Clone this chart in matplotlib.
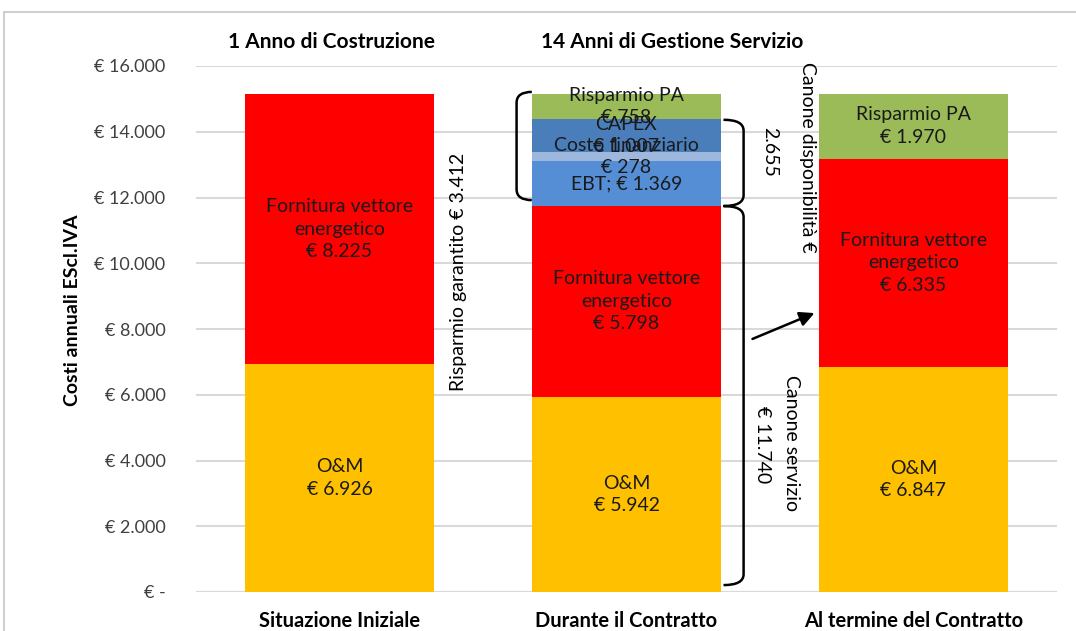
import matplotlib
matplotlib.use('Agg')
import matplotlib.pyplot as plt
import numpy as np
from matplotlib.path import Path
from matplotlib.patches import PathPatch, Rectangle

plt.rcParams['font.family'] = ['Lato', 'DejaVu Sans']

categories = ['Situazione Iniziale', 'Durante il Contratto', 'Al termine del Contratto']
om = [6926, 5942, 6847]
fornitura = [8225, 5798, 6335]
ebt = [0, 1369, 0]
costo_fin = [0, 278, 0]
capex = [0, 1007, 0]
risparmio_pa = [0, 758, 1970]
phase_titles = ['1 Anno di Costruzione', '14 Anni di Gestione Servizio']
canone_disp = 2655
yticks = [0, 2000, 4000, 6000, 8000, 10000, 12000, 14000, 16000]

def eur(v):
    if v == 0:
        return '€ -'
    return '€ ' + f'{v:,}'.replace(',', '.')

series = [
    ('O&M', om, '#FFC000', 'O&M\n{}'),
    ('Fornitura', fornitura, '#FF0000', 'Fornitura vettore\nenergetico\n{}'),
    ('EBT', ebt, '#558ED5', 'EBT; {}'),
    ('Costo finanziario', costo_fin, '#9DB8DC', 'Costo finanziario\n{}'),
    ('CAPEX', capex, '#4A7EBB', 'CAPEX\n{}'),
    ('Risparmio PA', risparmio_pa, '#9BBB59', 'Risparmio PA\n{}'),
]

fig = plt.figure(figsize=(10.76, 6.31), dpi=100)
ax = fig.add_axes([196/1076, 1-592/631, 861/1076, 526/631])

# chart frame
fig.patches.append(Rectangle((4/1076, -0.1), 1.1, 1-12/631+0.1, transform=fig.transFigure,
                             fill=False, edgecolor='#D0D0D0', lw=1.5))

x = np.arange(len(categories))
w = 0.66
bottom = np.zeros(len(categories))
for name, vals, col, fmt in series:
    vals = np.array(vals, dtype=float)
    ax.bar(x, vals, w, bottom=bottom, color=col, zorder=2)
    for i, v in enumerate(vals):
        if v > 0:
            ax.text(x[i], bottom[i] + v/2, fmt.format(eur(int(v))), ha='center', va='center',
                    fontsize=14, linespacing=1.4, color='#1a1a1a', zorder=4)
    bottom += vals

ax.set_xlim(-0.5, 2.5)
ax.set_ylim(0, 16000)
ax.set_yticks(yticks)
ax.set_yticklabels([eur(v) for v in yticks], fontsize=13, color='#404040')
ax.tick_params(axis='y', length=0, pad=22)
ax.tick_params(axis='x', length=0, pad=14)
ax.set_xticks(x)
ax.set_xticklabels(categories, fontsize=14.5, fontweight='bold')
ax.grid(axis='y', color='#D9D9D9', lw=1.5, zorder=0)
for s in ax.spines.values():
    s.set_visible(False)
ax.axhline(0, color='#D9D9D9', lw=1.5, zorder=1)

fig.text(72/1076, 1-310/631, 'Costi annuali EScl.IVA', rotation=90, ha='center', va='center',
         fontsize=14, fontweight='bold')
fig.text(332/1076, 1-42/631, phase_titles[0], ha='center', va='center', fontsize=15, fontweight='bold')
fig.text(672/1076, 1-42/631, phase_titles[1], ha='center', va='center', fontsize=15, fontweight='bold')

def bracket(pts_codes):
    verts, codes = zip(*pts_codes)
    ax.add_patch(PathPatch(Path(verts, codes), fill=False, lw=1.8, ec='black', zorder=5,
                           clip_on=False))

M, L, C = Path.MOVETO, Path.LINETO, Path.CURVE3
r = 330
top2 = sum(v[1] for _, v, _, _ in series)
servizio = om[1] + fornitura[1]
garantito = top2 - servizio

# left bracket: risparmio garantito
xs, xe = 0.617, 0.67
y1, y0 = top2 + 60, servizio + 180
bracket([((xe, y1), M), ((xs, y1), C), ((xs, y1 - r), C), ((xs, y0 + r), L),
         ((xs, y0), C), ((xe, y0), C)])

# right bracket: canone disponibilita / canone servizio
xs, xe = 1.408, 1.338
yt, ym, yb = servizio + ebt[1] + costo_fin[1] + capex[1] - 30, servizio, 210
bracket([((xe, yt), M), ((xs, yt), C), ((xs, yt - r), C), ((xs, ym + r), L),
         ((xs, ym), C), ((xe, ym), C), ((xs, ym), C), ((xs, ym - r), C),
         ((xs, yb + r), L), ((xs, yb), C), ((xe, yb), C)])

ax.text(0.413, 9730, 'Risparmio garantito ' + eur(garantito), rotation=90,
        ha='center', va='center', fontsize=14, zorder=5)
ax.text(1.632, 13233, 'Canone disponibilità €', rotation=270, ha='center', va='center',
        fontsize=14, zorder=5)
ax.text(1.50, 13385, eur(canone_disp)[2:], rotation=270, ha='center', va='center',
        fontsize=14, zorder=5)
ax.text(1.576, 4533, 'Canone servizio', rotation=270, ha='center', va='center',
        fontsize=14, zorder=5)
ax.text(1.475, 4472, eur(servizio), rotation=270, ha='center', va='center',
        fontsize=14, zorder=5)

ax.annotate('', xy=(1.664, 8517), xytext=(1.43, 7665),
            arrowprops=dict(arrowstyle='-|>', color='black', lw=1.8, mutation_scale=22),
            zorder=6)

fig.savefig('out.png', dpi=100)
